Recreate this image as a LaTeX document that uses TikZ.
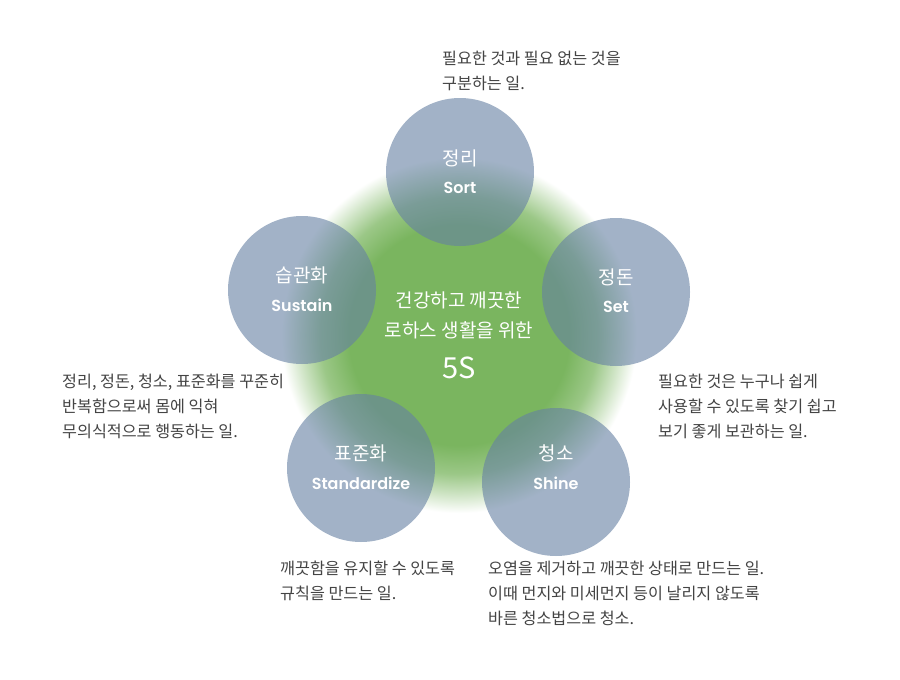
\documentclass[tikz,border=0pt]{standalone}
\usepackage{fontspec}
\setmainfont{Noto Sans CJK KR}
\newfontfamily\engfont{Poppins SemiBold}
\definecolor{glowgreen}{RGB}{122,181,95}
\definecolor{disc}{RGB}{101,128,163}
\definecolor{desc}{RGB}{68,68,68}
\pgfdeclareradialshading{glow}{\pgfpoint{0bp}{0bp}}{color(0bp)=(glowgreen); color(15.5bp)=(glowgreen); color(19.5bp)=(glowgreen!75!white); color(22.5bp)=(glowgreen!35!white); color(25bp)=(white); color(50bp)=(white)}
\tikzset{
  disk/.style={circle, minimum size=148pt, inner sep=0pt, fill=disc, fill opacity=0.6, draw=none},
  ko/.style={text=white, font=\fontsize{19}{22}\selectfont},
  en/.style={text=white, font=\engfont\fontsize{16}{19}\selectfont},
  ctr/.style={text=white, font=\fontsize{19}{22}\selectfont},
  note/.style={text=desc, font=\fontsize{16.2}{25}\selectfont, align=left, anchor=base west, inner sep=0pt}
}
\begin{document}
\begin{tikzpicture}[x=1pt,y=-1pt]
\useasboundingbox (0,0) rectangle (900,680);
\fill[white] (0,0) rectangle (900,680);
\shade[shading=glow] (459,335) circle[radius=178];
\node[disk] (sort) at (460,172) {};
\node[disk] (set) at (616,292) {};
\node[disk] (shine) at (556,482) {};
\node[disk] (std) at (361,468) {};
\node[disk] (sus) at (302,290) {};
\node[ko] (sortk) at (460,158) {정리};
\node[en] (sorte) at (460,188) {Sort};
\node[ko] (setk) at (616,277) {정돈};
\node[en] (sete) at (616,307) {Set};
\node[ko] (shinek) at (556,453) {청소};
\node[en] (shinee) at (556,483) {Shine};
\node[ko] (stdk) at (361,453) {표준화};
\node[en] (stde) at (361,483) {Standardize};
\node[ko] (susk) at (302,275) {습관화};
\node[en] (suse) at (302,305) {Sustain};
\node[ctr] (c1) at (459,300) {건강하고 깨끗한};
\node[ctr] (c2) at (459,330) {로하스 생활을 위한};
\node[text=white, font=\fontsize{29}{32}\selectfont] (c3) at (459,368) {5S};
\node[note] (nsort) at (442,89) {필요한 것과 필요 없는 것을\\구분하는 일.};
\node[note] (nsus) at (62,437) {정리, 정돈, 청소, 표준화를 꾸준히\\반복함으로써 몸에 익혀\\무의식적으로 행동하는 일.};
\node[note] (nset) at (658,437) {필요한 것은 누구나 쉽게\\사용할 수 있도록 찾기 쉽고\\보기 좋게 보관하는 일.};
\node[note] (nstd) at (280,599) {깨끗함을 유지할 수 있도록\\규칙을 만드는 일.};
\node[note] (nshine) at (488,624) {오염을 제거하고 깨끗한 상태로 만드는 일.\\이때 먼지와 미세먼지 등이 날리지 않도록\\바른 청소법으로 청소.};
\end{tikzpicture}
\end{document}
